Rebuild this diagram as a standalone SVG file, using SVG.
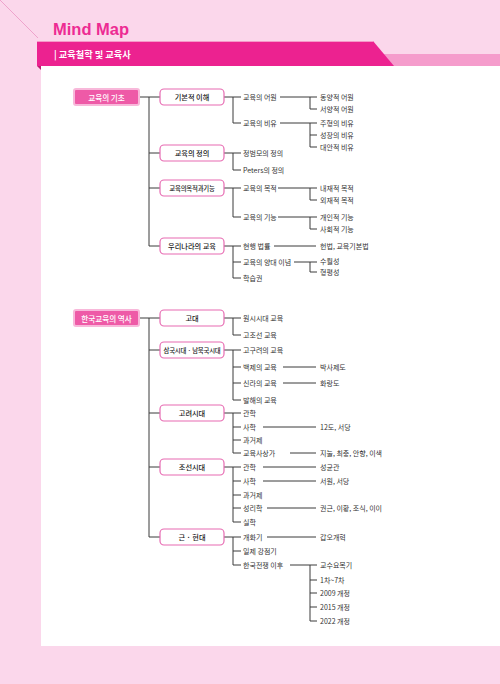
<svg xmlns="http://www.w3.org/2000/svg" width="500" height="684" viewBox="0 0 500 684">
<style>
.t{font-family:"Noto Sans CJK KR","Noto Sans",sans-serif;font-size:7px;fill:#333;dominant-baseline:central}
.n rect{fill:#fff;stroke:#e76bb2;stroke-width:1.2}
.n text{font-family:"Noto Sans CJK KR","Noto Sans",sans-serif;font-size:7.2px;fill:#222;text-anchor:middle;dominant-baseline:central;font-weight:500}
.n .s{font-size:6.4px;letter-spacing:-0.2px}
.r rect{fill:#ee5aa7;stroke:#f8b8da;stroke-width:2}
.r text{font-family:"Noto Sans CJK KR","Noto Sans",sans-serif;font-size:7.6px;fill:#fff;text-anchor:middle;dominant-baseline:central;font-weight:500}
#connectors path{stroke:#3a3a3a;fill:none;stroke-width:1}
</style>
<rect width="500" height="684" fill="#fbd7eb"/>
<line x1="0" y1="0" x2="38" y2="38" stroke="#eb95c4" stroke-width="0.8"/>
<rect x="41" y="66" width="459" height="580" fill="#fff"/>
<g id="header">
<text x="53" y="35" font-family="Liberation Sans,Arial,sans-serif" font-weight="bold" font-size="16.5" fill="#ed2b93">Mind Map</text>
<rect x="370" y="54" width="130" height="12" fill="#f59ccc"/>
<polygon points="37,41 373,41 394,66 37,66" fill="#ec2290"/>
<line x1="37" y1="41.5" x2="373" y2="41.5" stroke="#f7b6d8" stroke-width="0.8"/>
<polygon points="37,66 41,66 41,70" fill="#c01a72"/>
<text x="54" y="53.5" font-family="Noto Sans CJK KR,sans-serif" font-weight="bold" font-size="9.2" fill="#fff" dominant-baseline="central">| 교육철학 및 교육사</text>
</g>
<g id="connectors">
<path d="M139 97H160M149 97V246H160M149 153H160M149 188H160"/>
<path d="M224 97H241M233 97V123H241"/>
<path d="M280 97H317M310 97V109H317"/>
<path d="M280 123H317M310 123V147H317M310 135H317"/>
<path d="M224 153H241M233 153V170H241"/>
<path d="M224 188H241M233 188V217H241"/>
<path d="M278 188H317M310 188V200H317"/>
<path d="M278 217H317M310 217V229H317"/>
<path d="M224 246H241M233 246V278H241M233 262H241"/>
<path d="M274 246H316"/>
<path d="M294 262H317M310 262V272H317"/>
<path d="M139 318H160M149 318V537H160M149 350H160M149 413H160M149 467H160"/>
<path d="M224 318H241M233 318V335H241"/>
<path d="M224 350H241M233 350V400H241M233 367H241M233 383H241"/>
<path d="M283 367H316M283 383H316"/>
<path d="M224 413H241M233 413V453H241M233 427H241M233 440H241"/>
<path d="M263 427H316M290 453H316"/>
<path d="M224 467H241M233 467V522H241M233 481H241M233 495H241M233 508H241"/>
<path d="M263 467H316M263 481H316M267 508H316"/>
<path d="M224 537H241M233 537V565H241M233 551H241"/>
<path d="M267 537H316"/>
<path d="M290 565H317M310 565V621H317M310 580H317M310 593H317M310 607H317"/>
</g>
<g id="root1" class="r"><rect x="74" y="89" width="65" height="16" rx="2"/><text x="106.5" y="97">교육의 기초</text></g>
<g id="n-basic" class="n"><rect x="160" y="89" width="64" height="16" rx="4"/><text x="192" y="97">기본적 이해</text></g>
<g id="n-def" class="n"><rect x="160" y="145" width="64" height="16" rx="4"/><text x="192" y="153">교육의 정의</text></g>
<g id="n-aim" class="n"><rect x="160" y="180" width="64" height="16" rx="4"/><text class="s" x="192" y="188">교육의목적과기능</text></g>
<g id="n-kr" class="n"><rect x="160" y="238" width="64" height="16" rx="4"/><text x="192" y="246">우리나라의 교육</text></g>
<g id="leaves1">
<text class="t" x="243" y="97">교육의 어원</text>
<text class="t" x="243" y="123">교육의 비유</text>
<text class="t" x="243" y="153">정범모의 정의</text>
<text class="t" x="243" y="170">Peters의 정의</text>
<text class="t" x="243" y="188">교육의 목적</text>
<text class="t" x="243" y="217">교육의 기능</text>
<text class="t" x="243" y="246">현행 법률</text>
<text class="t" x="243" y="262">교육의 양대 이념</text>
<text class="t" x="243" y="278">학습권</text>
<text class="t" x="320" y="97">동양적 어원</text>
<text class="t" x="320" y="109">서양적 어원</text>
<text class="t" x="320" y="123">주형의 비유</text>
<text class="t" x="320" y="135">성장의 비유</text>
<text class="t" x="320" y="147">대안적 비유</text>
<text class="t" x="320" y="188">내재적 목적</text>
<text class="t" x="320" y="200">외재적 목적</text>
<text class="t" x="320" y="217">개인적 기능</text>
<text class="t" x="320" y="229">사회적 기능</text>
<text class="t" x="320" y="246">헌법, 교육기본법</text>
<text class="t" x="320" y="261">수월성</text>
<text class="t" x="320" y="272">형평성</text>
</g>
<g id="root2" class="r"><rect x="74" y="310" width="65" height="16" rx="2"/><text x="106.5" y="318">한국교육의 역사</text></g>
<g id="n-ancient" class="n"><rect x="160" y="310" width="64" height="16" rx="4"/><text x="192" y="318">고대</text></g>
<g id="n-three" class="n"><rect x="160" y="342" width="64" height="16" rx="4"/><text class="s" x="192" y="350">삼국시대 · 남북국시대</text></g>
<g id="n-goryeo" class="n"><rect x="160" y="405" width="64" height="16" rx="4"/><text x="192" y="413">고려시대</text></g>
<g id="n-joseon" class="n"><rect x="160" y="459" width="64" height="16" rx="4"/><text x="192" y="467">조선시대</text></g>
<g id="n-modern" class="n"><rect x="160" y="529" width="64" height="16" rx="4"/><text x="192" y="537">근 · 현대</text></g>
<g id="leaves2">
<text class="t" x="243" y="318">원시시대 교육</text>
<text class="t" x="243" y="335">고조선 교육</text>
<text class="t" x="243" y="350">고구려의 교육</text>
<text class="t" x="243" y="367">백제의 교육</text>
<text class="t" x="243" y="383">신라의 교육</text>
<text class="t" x="243" y="400">발해의 교육</text>
<text class="t" x="243" y="413">관학</text>
<text class="t" x="243" y="427">사학</text>
<text class="t" x="243" y="440">과거제</text>
<text class="t" x="243" y="453">교육사상가</text>
<text class="t" x="243" y="467">관학</text>
<text class="t" x="243" y="481">사학</text>
<text class="t" x="243" y="495">과거제</text>
<text class="t" x="243" y="508">성리학</text>
<text class="t" x="243" y="522">실학</text>
<text class="t" x="243" y="537">개화기</text>
<text class="t" x="243" y="551">일제 강점기</text>
<text class="t" x="243" y="565">한국전쟁 이후</text>
<text class="t" x="320" y="367">박사제도</text>
<text class="t" x="320" y="383">화랑도</text>
<text class="t" x="320" y="427">12도, 서당</text>
<text class="t" x="320" y="453">지눌, 최충, 안향, 이색</text>
<text class="t" x="320" y="467">성균관</text>
<text class="t" x="320" y="481">서원, 서당</text>
<text class="t" x="320" y="508">권근, 이황, 조식, 이이</text>
<text class="t" x="320" y="537">갑오개혁</text>
<text class="t" x="320" y="565">교수요목기</text>
<text class="t" x="320" y="580">1차~7차</text>
<text class="t" x="320" y="593">2009 개정</text>
<text class="t" x="320" y="607">2015 개정</text>
<text class="t" x="320" y="621">2022 개정</text>
</g>
</svg>
